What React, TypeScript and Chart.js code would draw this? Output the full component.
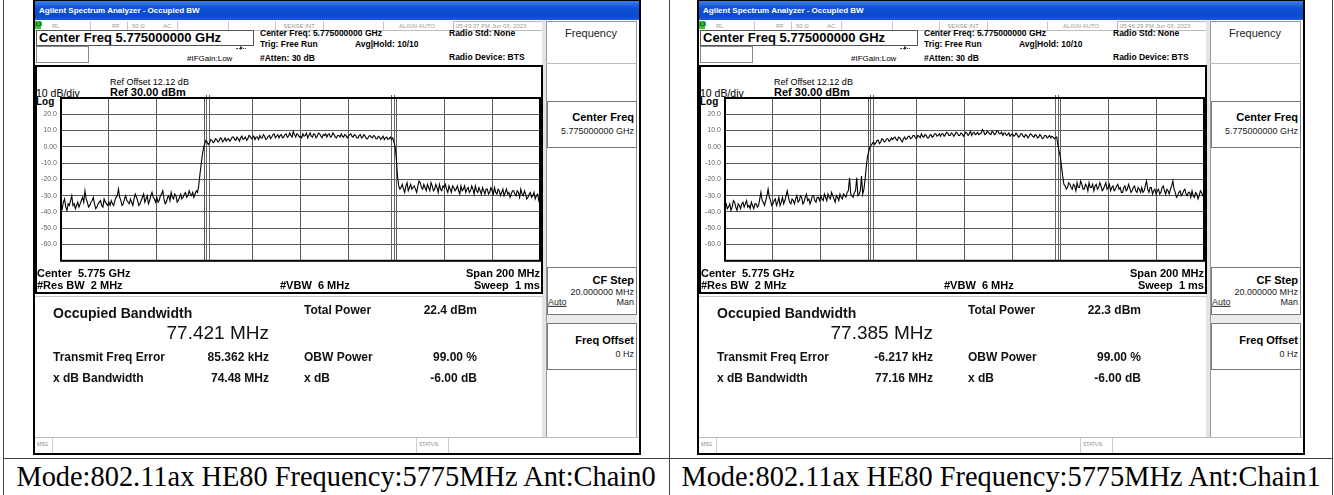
import React, { useEffect, useRef } from "react";
import { Chart, registerables } from "chart.js";

Chart.register(...registerables);

// ---------------- DATA ----------------
// sweep points, MHz offset from the 5.775 GHz centre (0.5 MHz apart)
const sweepFreqsMHz: number[] = [
  -100, -99.5, -99, -98.5, -98, -97.5, -97, -96.5, -96, -95.5, -95, -94.5, -94, -93.5, -93, -92.5, -92, -91.5, -91, -90.5,
  -90, -89.5, -89, -88.5, -88, -87.5, -87, -86.5, -86, -85.5, -85, -84.5, -84, -83.5, -83, -82.5, -82, -81.5, -81, -80.5,
  -80, -79.5, -79, -78.5, -78, -77.5, -77, -76.5, -76, -75.5, -75, -74.5, -74, -73.5, -73, -72.5, -72, -71.5, -71, -70.5,
  -70, -69.5, -69, -68.5, -68, -67.5, -67, -66.5, -66, -65.5, -65, -64.5, -64, -63.5, -63, -62.5, -62, -61.5, -61, -60.5,
  -60, -59.5, -59, -58.5, -58, -57.5, -57, -56.5, -56, -55.5, -55, -54.5, -54, -53.5, -53, -52.5, -52, -51.5, -51, -50.5,
  -50, -49.5, -49, -48.5, -48, -47.5, -47, -46.5, -46, -45.5, -45, -44.5, -44, -43.5, -43, -42.5, -42, -41.5, -41, -40.5,
  -40, -39.5, -39, -38.5, -38, -37.5, -37, -36.5, -36, -35.5, -35, -34.5, -34, -33.5, -33, -32.5, -32, -31.5, -31, -30.5,
  -30, -29.5, -29, -28.5, -28, -27.5, -27, -26.5, -26, -25.5, -25, -24.5, -24, -23.5, -23, -22.5, -22, -21.5, -21, -20.5,
  -20, -19.5, -19, -18.5, -18, -17.5, -17, -16.5, -16, -15.5, -15, -14.5, -14, -13.5, -13, -12.5, -12, -11.5, -11, -10.5,
  -10, -9.5, -9, -8.5, -8, -7.5, -7, -6.5, -6, -5.5, -5, -4.5, -4, -3.5, -3, -2.5, -2, -1.5, -1, -0.5,
  0, 0.5, 1, 1.5, 2, 2.5, 3, 3.5, 4, 4.5, 5, 5.5, 6, 6.5, 7, 7.5, 8, 8.5, 9, 9.5,
  10, 10.5, 11, 11.5, 12, 12.5, 13, 13.5, 14, 14.5, 15, 15.5, 16, 16.5, 17, 17.5, 18, 18.5, 19, 19.5,
  20, 20.5, 21, 21.5, 22, 22.5, 23, 23.5, 24, 24.5, 25, 25.5, 26, 26.5, 27, 27.5, 28, 28.5, 29, 29.5,
  30, 30.5, 31, 31.5, 32, 32.5, 33, 33.5, 34, 34.5, 35, 35.5, 36, 36.5, 37, 37.5, 38, 38.5, 39, 39.5,
  40, 40.5, 41, 41.5, 42, 42.5, 43, 43.5, 44, 44.5, 45, 45.5, 46, 46.5, 47, 47.5, 48, 48.5, 49, 49.5,
  50, 50.5, 51, 51.5, 52, 52.5, 53, 53.5, 54, 54.5, 55, 55.5, 56, 56.5, 57, 57.5, 58, 58.5, 59, 59.5,
  60, 60.5, 61, 61.5, 62, 62.5, 63, 63.5, 64, 64.5, 65, 65.5, 66, 66.5, 67, 67.5, 68, 68.5, 69, 69.5,
  70, 70.5, 71, 71.5, 72, 72.5, 73, 73.5, 74, 74.5, 75, 75.5, 76, 76.5, 77, 77.5, 78, 78.5, 79, 79.5,
  80, 80.5, 81, 81.5, 82, 82.5, 83, 83.5, 84, 84.5, 85, 85.5, 86, 86.5, 87, 87.5, 88, 88.5, 89, 89.5,
  90, 90.5, 91, 91.5, 92, 92.5, 93, 93.5, 94, 94.5, 95, 95.5, 96, 96.5, 97, 97.5, 98, 98.5, 99, 99.5,
  100,
];

const chain0TraceDbm: number[] = [
  -36, -38, -34, -32, -37, -39, -35, -36, -33, -30, -36, -35, -38, -36, -34, -37, -35, -33, -31, -34,
  -27, -32, -34, -37, -36, -34, -33, -31, -35, -38, -37, -35, -34, -33, -36, -37, -32, -34, -35, -36,
  -34, -36, -33, -35, -36, -33, -31, -30, -26, -31, -33, -36, -35, -32, -30, -33, -34, -35, -32, -34,
  -36, -32, -29, -31, -33, -36, -35, -33, -31, -29, -34, -32, -30, -35, -33, -30, -28, -31, -32, -34,
  -31, -34, -33, -30, -29, -27, -32, -35, -34, -31, -30, -33, -28, -31, -32, -29, -30, -34, -33, -31,
  -29, -32, -31, -29, -28, -31, -30, -27, -29, -30, -28, -31, -29, -27, -28, -24, -17, -11, -5, -1,
  2, 4, 3, 1.5, 2.5, 4.5, 4, 2.5, 3, 5, 4.5, 3, 3.5, 5.5, 5, 3, 4, 5.5, 3.5, 4.5,
  5, 3.5, 4.5, 6, 6, 4.5, 4, 6, 5, 3.5, 5.5, 6.5, 4.5, 5, 6, 4, 5, 7, 6.5, 5,
  5.5, 6.5, 4.5, 6, 6, 4.5, 7, 5.5, 5.5, 7.5, 6.5, 4.5, 5, 6.5, 7, 5, 6, 7.5, 8, 5.5,
  6.5, 7.5, 5.5, 7, 7.5, 5.5, 6, 7.5, 8, 6, 6.5, 8.5, 7, 6, 9.5, 7.5, 6, 8, 7.5, 6,
  6.5, 5.5, 8, 6.5, 7, 8.5, 5.5, 7, 8.5, 6.5, 6, 8, 7.5, 5.5, 6.5, 8.5, 8, 6.5, 5.5, 7.5,
  7, 8, 6, 7.5, 8, 6, 6.5, 8.5, 7.5, 6, 5.5, 7, 7, 6, 8, 6.5, 6, 7.5, 7, 5.5,
  6.5, 7.5, 8, 6.5, 6, 7.5, 7, 5.5, 5.5, 7, 7.5, 5.5, 6, 7.5, 6.5, 5, 5, 6.5, 7, 6,
  5.5, 7, 6.5, 5, 5, 6.5, 6, 4.5, 5.5, 6.5, 4.5, 5.5, 6, 4.5, 5, 6, 4.5, 5.5, 3, 0,
  -7, -18, -24, -26, -25, -23, -26, -28, -24, -22, -27, -25, -23, -26, -25, -24, -26, -28, -24, -21,
  -22, -25, -26, -23, -25, -27, -23, -25, -27, -22, -24, -27, -26, -23, -25, -28, -23, -26, -27, -24,
  -25, -23, -26, -28, -24, -26, -28, -24, -25, -27, -26, -24, -27, -29, -24, -27, -26, -24, -28, -26,
  -25, -28, -27, -24, -26, -29, -24, -27, -28, -25, -27, -29, -25, -27, -29, -26, -26, -29, -28, -25,
  -27, -29, -25, -28, -29, -26, -27, -30, -28, -26, -30, -28, -26, -29, -28, -31, -29, -27, -27, -29,
  -30, -27, -28, -31, -26, -29, -30, -27, -29, -32, -31, -29, -28, -31, -30, -28, -32, -30, -29, -33,
  -31,
];

const chain1TraceDbm: number[] = [
  -36, -35, -38, -37, -35, -39, -37, -33, -34, -37, -39, -35, -36, -38, -35, -34, -37, -35, -33, -37,
  -36, -38, -34, -36, -38, -35, -35, -37, -36, -32, -28, -33, -34, -36, -33, -30, -26, -31, -33, -36,
  -35, -33, -32, -36, -34, -31, -36, -34, -31, -35, -33, -30, -27, -31, -34, -35, -32, -33, -35, -32,
  -30, -34, -33, -30, -31, -35, -34, -31, -29, -33, -32, -35, -33, -30, -30, -33, -34, -31, -31, -33,
  -30, -32, -33, -29, -31, -33, -29, -31, -32, -28, -30, -32, -34, -30, -31, -33, -29, -31, -32, -29,
  -30, -31, -28, -27, -19, -29, -30, -31, -28, -27, -19, -30, -29, -27, -18, -29, -26, -20, -12, -6,
  -3, 0, 1, 2, 3, 1.5, 2.5, 4, 4, 2, 3, 5, 4.5, 3, 3.5, 5, 5, 3.5, 4, 5.5,
  4.5, 5.5, 6, 4.5, 4, 6, 5.5, 4, 3, 5, 6, 4.5, 5, 6.5, 6.5, 5, 5.5, 7, 7, 5.5,
  5, 7, 6.5, 5.5, 8, 6.5, 6, 7.5, 7, 5.5, 5.5, 7, 7.5, 6, 6.5, 8, 8, 6.5, 7, 8,
  6.5, 8, 8, 6.5, 7.5, 9, 8.5, 7, 7, 8.5, 8, 6.5, 7.5, 9, 8.5, 7, 7, 8.5, 8, 6.5,
  7.5, 9, 8.5, 7, 8, 9.5, 7, 8.5, 9, 7.5, 8, 9, 7.5, 8, 8.5, 10.5, 9.5, 7.5, 8, 9.5,
  9, 8, 7.5, 9.5, 9, 7.5, 8, 10, 9.5, 8, 8, 9, 7, 8.5, 8.5, 7, 7.5, 8.5, 6.5, 7.5,
  8, 6.5, 7, 8.5, 7.5, 6, 6.5, 8, 8, 6.5, 6, 7.5, 7, 5.5, 6.5, 8, 7.5, 6.5, 6, 7.5,
  7, 5.5, 6, 7.5, 6.5, 5, 5.5, 7, 7, 5.5, 6, 7, 5.5, 6.5, 6, 5, 5.5, 6, 1, -3,
  -6, -12, -18, -23, -24, -26, -25, -22, -23, -25, -26, -23, -24, -27, -22, -25, -25, -21, -23, -26,
  -26, -23, -24, -27, -22, -25, -25, -23, -27, -24, -23, -26, -25, -22, -24, -27, -26, -24, -22, -26,
  -25, -23, -27, -25, -24, -27, -26, -24, -23, -26, -25, -28, -28, -25, -24, -27, -26, -23, -25, -28,
  -27, -25, -24, -27, -28, -25, -26, -28, -25, -28, -27, -24, -21, -26, -28, -25, -25, -29, -27, -26,
  -29, -27, -26, -29, -28, -25, -24, -27, -29, -26, -27, -29, -26, -24, -21, -26, -28, -31, -30, -28,
  -27, -30, -29, -27, -26, -29, -30, -28, -28, -31, -27, -30, -31, -28, -29, -32, -30, -27, -28, -30,
  -31,
];

const refLevelDbm = 30;
const bottomLevelDbm = -70;
const dbPerDiv = 10;
const spanStartMHz = -100;
const spanStopMHz = 100;
const freqPerDivMHz = 20;

const obwMHz: number[] = [77.421, 77.385];
const obwText: string[] = ["77.421 MHz", "77.385 MHz"];
const totalPowerText: string[] = ["22.4 dBm", "22.3 dBm"];
const freqErrorText: string[] = ["85.362 kHz", "-6.217 kHz"];
const xdbBandwidthText: string[] = ["74.48 MHz", "77.16 MHz"];
const timestampText: string[] = ["05:43:37 PM Jun 03, 2023", "05:46:29 PM Jun 03, 2023"];
const captionText: string[] = [
  "Mode:802.11ax HE80 Frequency:5775MHz Ant:Chain0",
  "Mode:802.11ax HE80 Frequency:5775MHz Ant:Chain1",
];

// ---------------- HELPERS ----------------
const SANS = '"Liberation Sans", Arial, sans-serif';
const SERIF = '"Liberation Serif", "Times New Roman", serif';

function Box(p: { x: number; y: number; w: number; h: number; style?: React.CSSProperties }) {
  return (
    <div
      style={{
        position: "absolute",
        left: p.x,
        top: p.y,
        width: p.w,
        height: p.h,
        boxSizing: "border-box",
        ...(p.style || {}),
      }}
    />
  );
}

function T(p: {
  x: number;
  y: number;
  size: number;
  bold?: boolean;
  color?: string;
  align?: "left" | "right" | "center";
  family?: string;
  style?: React.CSSProperties;
  children: React.ReactNode;
}) {
  const tx = p.align === "right" ? "-100%" : p.align === "center" ? "-50%" : "0";
  return (
    <div
      style={{
        position: "absolute",
        left: p.x,
        top: p.y,
        transform: `translate(${tx},-50%)`,
        fontSize: p.size,
        fontWeight: p.bold ? 700 : 400,
        color: p.color || "#000",
        fontFamily: p.family || SANS,
        whiteSpace: "pre",
        lineHeight: 1.15,
        ...(p.style || {}),
      }}
    >
      {p.children}
    </div>
  );
}

// ---------------- CHART ----------------
function Spectrum(props: { values: number[]; obw: number }) {
  const ref = useRef<HTMLCanvasElement>(null);
  useEffect(() => {
    const canvas = ref.current;
    if (!canvas) return;
    const pts = sweepFreqsMHz.map((f, i) => ({ x: f, y: props.values[i] }));
    const half = props.obw / 2;
    const overlay = {
      id: "overlay",
      beforeDatasetsDraw(chart: any) {
        const { ctx, chartArea, scales } = chart;
        ctx.save();
        ctx.strokeStyle = "#666";
        ctx.lineWidth = 1;
        [-half, half].forEach((v) => {
          const px = Math.round(scales.x.getPixelForValue(v));
          [px - 1.5, px + 1.5].forEach((lx) => {
            ctx.beginPath();
            ctx.moveTo(lx, chartArea.top - 3);
            ctx.lineTo(lx, chartArea.bottom);
            ctx.stroke();
          });
        });
        ctx.restore();
      },
      afterDatasetsDraw(chart: any) {
        const { ctx, chartArea } = chart;
        ctx.save();
        ctx.strokeStyle = "#000";
        ctx.lineWidth = 2;
        ctx.strokeRect(
          chartArea.left,
          chartArea.top,
          chartArea.right - chartArea.left,
          chartArea.bottom - chartArea.top
        );
        ctx.restore();
      },
    };
    const chart = new Chart(canvas, {
      type: "line",
      data: {
        datasets: [
          {
            data: pts,
            borderColor: "#000",
            borderWidth: 1.1,
            pointRadius: 0,
            tension: 0,
            fill: false,
          },
        ],
      },
      options: {
        animation: false,
        responsive: false,
        devicePixelRatio: 1,
        layout: { padding: { top: 10, right: 1, bottom: 6, left: 0 } },
        plugins: { legend: { display: false }, tooltip: { enabled: false } },
        scales: {
          x: {
            type: "linear",
            min: spanStartMHz,
            max: spanStopMHz,
            ticks: { display: false, stepSize: freqPerDivMHz },
            grid: { color: "#5a5a5a", lineWidth: 1, drawTicks: false },
            border: { display: false },
            afterFit: (s: any) => {
              s.height = 0;
            },
          },
          y: {
            type: "linear",
            min: bottomLevelDbm,
            max: refLevelDbm,
            ticks: {
              stepSize: dbPerDiv,
              padding: 4,
              color: "#666",
              font: { family: SANS, size: 7 },
              callback: (v: any) => {
                const n = Number(v);
                if (n === refLevelDbm || n === bottomLevelDbm) return "";
                return n === 0 ? "0.00" : n.toFixed(1);
              },
            },
            grid: { color: "#5a5a5a", lineWidth: 1, drawTicks: false },
            border: { display: false },
            afterFit: (s: any) => {
              s.width = 24;
            },
          },
        },
      },
      plugins: [overlay],
    } as any);
    return () => chart.destroy();
  }, [props.values, props.obw]);
  return (
    <canvas
      ref={ref}
      width={504}
      height={181}
      style={{ position: "absolute", left: 4, top: 88, width: 504, height: 181 }}
    />
  );
}

// ---------------- ANALYZER SCREEN ----------------
function Analyzer(p: { left: number; i: number; values: number[] }) {
  const i = p.i;
  const sep = (x: number) => <Box x={x} y={21} w={1} h={9} style={{ background: "#c8c8c8" }} />;
  return (
    <div style={{ position: "absolute", left: p.left, top: 0, width: 608, height: 455, background: "#000" }}>
      <Box x={2} y={1} w={604} h={452} style={{ background: "#fff" }} />
      {/* title bar */}
      <Box
        x={2}
        y={1}
        w={604}
        h={19}
        style={{ background: "linear-gradient(#3b7ef0, #0f52d6 35%, #0a4bcc 80%, #1c5ad8)" }}
      />
      <T x={6} y={11} size={8} bold color="#fff">
        Agilent Spectrum Analyzer - Occupied BW
      </T>
      {/* status row */}
      <Box x={2} y={20} w={511} h={11} style={{ background: "#fff", borderBottom: "1px solid #bdbdbd" }} />
      <Box x={2} y={21} w={6} h={8} style={{ background: "#2fc52f" }} />
      <T x={3} y={25} size={5} bold color="#0a3a0a">LX</T>
      <T x={19} y={25.5} size={6} color="#999">RL</T>
      {sep(57)}
      <T x={79} y={25.5} size={6} color="#999">RF</T>
      {sep(94)}
      <T x={99} y={25.5} size={6} color="#999">50 Ω</T>
      <T x={130} y={25.5} size={6} color="#999">AC</T>
      {sep(144)}
      {sep(195)}
      {sep(242)}
      <T x={266} y={25.5} size={6} color="#999" align="center">SENSE:INT</T>
      {sep(290)}
      {sep(350)}
      <T x={384} y={25.5} size={6} color="#999" align="center">ALIGN AUTO</T>
      <Box x={420} y={21} w={92} h={10} style={{ border: "1px solid #bbb" }} />
      <T x={423} y={25.5} size={6} color="#999">{timestampText[i]}</T>

      {/* settings */}
      <Box x={3} y={30} w={218} h={16} style={{ border: "1px solid #555" }} />
      <T x={6} y={38} size={13} bold>Center Freq 5.775000000 GHz</T>
      <Box x={3} y={46} w={53} h={17} style={{ border: "1px solid #888" }} />
      <Box x={203} y={48} w={10} h={1} style={{ borderTop: "1px dotted #444" }} />
      <div
        style={{
          position: "absolute",
          left: 207,
          top: 46,
          width: 0,
          height: 0,
          borderTop: "2px solid transparent",
          borderBottom: "2px solid transparent",
          borderLeft: "3px solid #333",
        }}
      />
      <T x={154} y={59} size={8}>#IFGain:Low</T>
      <T x={227} y={34} size={8.5} bold>Center Freq: 5.775000000 GHz</T>
      <T x={227} y={45} size={8.5} bold>Trig: Free Run</T>
      <T x={322} y={45} size={8.5} bold>Avg|Hold: 10/10</T>
      <T x={227} y={59} size={8.5} bold>#Atten: 30 dB</T>
      <T x={416} y={34} size={8.5} bold>Radio Std: None</T>
      <T x={416} y={58} size={8.5} bold>Radio Device: BTS</T>

      {/* softkey panel */}
      <Box x={509} y={20} w={5} h={418} style={{ background: "#e4e4e4" }} />
      <Box x={513} y={21} w={91} h={417} style={{ border: "1px solid #999", background: "#fff" }} />
      <Box x={513} y={21} w={91} h={43} style={{ borderBottom: "1px solid #bbb" }} />
      <T x={558} y={33} size={11} color="#222" align="center">Frequency</T>
      <Box x={514} y={101} w={90} h={47} style={{ border: "1px solid #777" }} />
      <T x={601} y={117} size={11} bold align="right">Center Freq</T>
      <T x={601} y={131} size={9} align="right" color="#222">5.775000000 GHz</T>
      <Box x={514} y={267} w={90} h={48} style={{ border: "1px solid #777" }} />
      <T x={601} y={280} size={11} bold align="right">CF Step</T>
      <T x={601} y={292} size={9} align="right" color="#222">20.000000 MHz</T>
      <T x={515} y={302} size={9} color="#222" style={{ textDecoration: "underline" }}>Auto</T>
      <T x={601} y={302} size={9} align="right" color="#222">Man</T>
      <Box x={514} y={315} w={90} h={8} style={{ background: "#ececec" }} />
      <Box x={514} y={323} w={90} h={47} style={{ border: "1px solid #777" }} />
      <T x={601} y={340} size={11} bold align="right">Freq Offset</T>
      <T x={601} y={354} size={9} align="right" color="#222">0 Hz</T>

      {/* plot box */}
      <Box x={2} y={65} w={508} h={229} style={{ border: "2px solid #000", background: "#fff" }} />
      <T x={77} y={82} size={9}>Ref Offset 12.12 dB</T>
      <T x={3} y={93} size={10.5}>10 dB/div</T>
      <T x={77} y={92} size={11} bold>Ref 30.00 dBm</T>
      <T x={3} y={102} size={10} bold>Log</T>
      <Spectrum values={p.values} obw={obwMHz[i]} />
      <T x={4} y={273} size={11} bold>{"Center  5.775 GHz"}</T>
      <T x={4} y={285} size={11} bold>{"#Res BW  2 MHz"}</T>
      <T x={247} y={285} size={11} bold>{"#VBW  6 MHz"}</T>
      <T x={507} y={273} size={11} bold align="right">Span 200 MHz</T>
      <T x={507} y={285} size={11} bold align="right">{"Sweep  1 ms"}</T>

      {/* results */}
      <Box x={2} y={296} w={508} h={142} style={{ borderTop: "1px solid #c8c8c8" }} />
      <T x={20} y={313} size={14} bold color="#111">Occupied Bandwidth</T>
      <T x={236} y={333} size={19} color="#111" align="right">{obwText[i]}</T>
      <T x={271} y={311} size={12} bold color="#111">Total Power</T>
      <T x={444} y={311} size={12} bold color="#111" align="right">{totalPowerText[i]}</T>
      <T x={20} y={358} size={12} bold color="#111">Transmit Freq Error</T>
      <T x={236} y={358} size={12} bold color="#111" align="right">{freqErrorText[i]}</T>
      <T x={271} y={358} size={12} bold color="#111">OBW Power</T>
      <T x={444} y={358} size={12} bold color="#111" align="right">99.00 %</T>
      <T x={20} y={379} size={12} bold color="#111">x dB Bandwidth</T>
      <T x={236} y={379} size={12} bold color="#111" align="right">{xdbBandwidthText[i]}</T>
      <T x={271} y={379} size={12} bold color="#111">x dB</T>
      <T x={444} y={379} size={12} bold color="#111" align="right">-6.00 dB</T>

      {/* message bar */}
      <Box x={2} y={437} w={604} h={16} style={{ borderTop: "1px solid #bbb", background: "#fff" }} />
      <T x={4} y={445} size={5} color="#888">MSG</T>
      <Box x={19} y={438} w={1} h={15} style={{ background: "#ccc" }} />
      <Box x={383} y={438} w={1} h={15} style={{ background: "#ccc" }} />
      <T x={386} y={445} size={5} color="#888">STATUS</T>
      <Box x={415} y={438} w={1} h={15} style={{ background: "#ccc" }} />
    </div>
  );
}

export default function App() {
  useEffect(() => {
    document.body.style.margin = "0";
  }, []);
  return (
    <div
      style={{
        position: "fixed",
        left: 0,
        top: 0,
        width: 1334,
        height: 495,
        background: "#fff",
        overflow: "hidden",
      }}
    >
      <Box x={3} y={0} w={1} h={495} style={{ background: "#444" }} />
      <Box x={669} y={0} w={1} h={495} style={{ background: "#444" }} />
      <Box x={1332} y={0} w={1} h={495} style={{ background: "#444" }} />
      <Box x={3} y={458} w={1330} h={1} style={{ background: "#444" }} />
      <Analyzer left={33} i={0} values={chain0TraceDbm} />
      <Analyzer left={697} i={1} values={chain1TraceDbm} />
      <T x={336} y={477} size={28.4} family={SERIF} align="center">{captionText[0]}</T>
      <T x={1001} y={477} size={28.4} family={SERIF} align="center">{captionText[1]}</T>
    </div>
  );
}
